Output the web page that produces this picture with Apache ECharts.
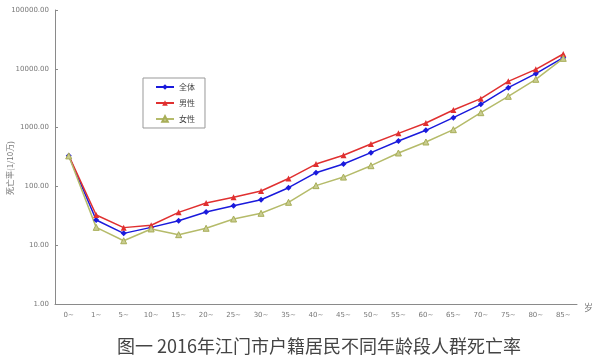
<!DOCTYPE html>
<html><head><meta charset="utf-8">
<script src="https://cdn.jsdelivr.net/npm/echarts@6/dist/echarts.min.js"></script>
<style>html,body{margin:0;padding:0;background:#fff}#c{width:600px;height:362px}</style>
</head><body><div id="c"></div>
<script>
var categories = ['0~','1~','5~','10~','15~','20~','25~','30~','35~','40~','45~','50~','55~','60~','65~','70~','75~','80~','85~'];
var total  = [333, 26.8, 15.9, 20.1, 26.1, 36.7, 47, 59.4, 95, 171, 240, 375, 592, 899, 1475, 2489, 4775, 8260, 15450];
var male   = [333, 32.6, 19.9, 21.8, 36.2, 52.2, 65.2, 83.5, 136, 240, 338, 526, 799, 1198, 1992, 3104, 6124, 9800, 17850];
var female = [330, 20.1, 11.9, 18.9, 15.1, 19.4, 27.9, 34.9, 53.6, 103, 144, 225, 370, 569, 922, 1794, 3404, 6624, 15060];
var seriesNames = ['全体','男性','女性'];
var titleText = '图一 2016年江门市户籍居民不同年龄段人群死亡率';
var xUnit = '岁';
var yName = '死亡率(1/10万)';

var chart = echarts.init(document.getElementById('c'), null, {renderer:'canvas'});
var axisColor = '#8a8a8a';
var labelStyle = {color:'#777', fontSize:7, fontFamily:'DejaVu Sans'};
chart.setOption({
  animation:false,
  backgroundColor:'#fff',
  title:{text:titleText, left:314, textAlign:'center', top:332,
    textStyle:{fontSize:18, fontWeight:'normal', color:'#444', fontFamily:'Noto Sans CJK SC'}},
  grid:{left:55, right:23, top:10, bottom:58, containLabel:false, outerBoundsMode:'none'},
  legend:{orient:'vertical', left:143, top:78, width:64, data:seriesNames,
    borderColor:'#999', borderWidth:1, padding:[5,10,5,12], itemGap:8,
    itemWidth:18, itemHeight:7,
    textStyle:{fontSize:8, color:'#444', fontFamily:'Noto Sans CJK SC', padding:[0,14,0,0]}},
  graphic:[
    {type:'text', left:584, top:303, style:{text:xUnit, fontSize:9, fill:'#777', fontFamily:'Noto Sans CJK SC'}},
    {type:'text', x:10, y:168, rotation:Math.PI/2,
     style:{text:yName, fontSize:8, fill:'#777', fontFamily:'Noto Sans CJK SC', align:'center', verticalAlign:'middle'}}
  ],
  xAxis:{type:'category', data:categories, boundaryGap:true,
    axisLine:{lineStyle:{color:axisColor}},
    axisTick:{inside:true, length:3, lineStyle:{color:axisColor}},
    axisLabel:Object.assign({margin:8, interval:0}, labelStyle),
    splitLine:{show:false}},
  yAxis:{type:'log', logBase:10, min:1, max:100000,
    axisLine:{show:true, lineStyle:{color:axisColor}},
    axisTick:{show:true, inside:true, length:3, lineStyle:{color:axisColor}},
    axisLabel:Object.assign({margin:6, formatter:function(v){return Number(v).toFixed(2);}}, labelStyle),
    splitLine:{show:false}},
  series:[
    {name:seriesNames[0], type:'line', data:total, symbol:'diamond', symbolSize:6,
     lineStyle:{color:'#1a1adc', width:1.5}, itemStyle:{color:'#1a1adc'}},
    {name:seriesNames[1], type:'line', data:male, symbol:'triangle', symbolSize:6,
     lineStyle:{color:'#e03030', width:1.5}, itemStyle:{color:'#e03030'}},
    {name:seriesNames[2], type:'line', data:female, symbol:'triangle', symbolSize:6,
     lineStyle:{color:'#b5bb6a', width:1.5}, itemStyle:{color:'#c8cc90', borderColor:'#a8ae58', borderWidth:1}}
  ]
});
</script></body></html>
